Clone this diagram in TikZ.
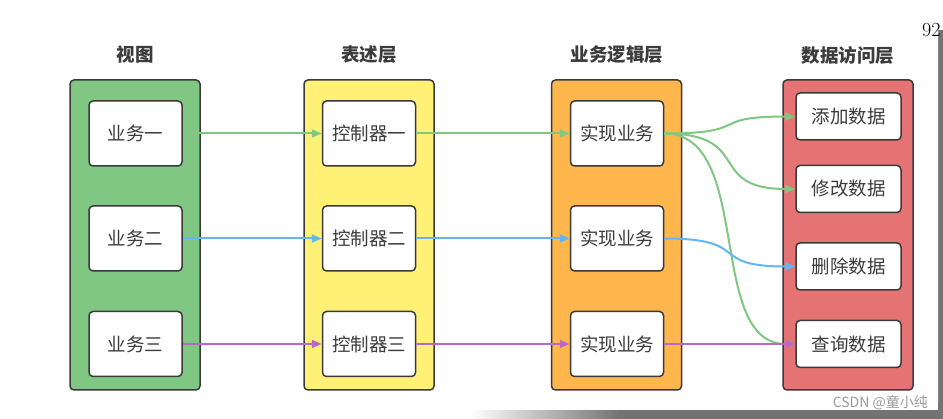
\documentclass[tikz,border=0pt]{standalone}
\usepackage{fontspec}
\newfontfamily\cjk{Noto Sans CJK SC}
\usetikzlibrary{arrows.meta}

\definecolor{viewgreen}{HTML}{81C784}
\definecolor{presyellow}{HTML}{FFF176}
\definecolor{logicorange}{HTML}{FFB74D}
\definecolor{datared}{HTML}{E57373}
\definecolor{flowgreen}{HTML}{81C784}
\definecolor{flowblue}{HTML}{64B5F6}
\definecolor{flowpurple}{HTML}{BA68C8}
\definecolor{framegray}{HTML}{3A3A3A}
\definecolor{textgray}{HTML}{3C3C3C}

\begin{document}
\begin{tikzpicture}[x=1pt, y=-1pt,
	layer/.style={draw=framegray, line width=1.5pt, rounded corners=4pt,
		minimum width=130pt, minimum height=310pt, inner sep=0pt},
	item/.style={draw=framegray, fill=white, line width=1.5pt, rounded corners=4pt,
		minimum width=93pt, minimum height=65pt, inner sep=0pt, text=textgray,
		font=\cjk\fontsize{18.5}{20}\selectfont},
	dataitem/.style={item, minimum width=105pt, minimum height=47pt},
	title/.style={text=textgray, font=\cjk\bfseries\fontsize{18.5}{20}\selectfont},
	flow/.style={line width=2pt, -{Triangle[length=10pt, width=8pt]}},
	]
	\useasboundingbox (0,0) rectangle (943,419);
	
	% Screen edge around the page
	\fill[black!55] (938,30) rectangle (943,419);
	\shade[left color=white, right color=black!55] (470,410) rectangle (620,419);
	\fill[black!55] (620,410) rectangle (943,419);
	\fill[white, rounded corners=8pt] (-10,-10) rectangle (938,410);
	\node[anchor=base west, inner sep=0pt, font=\fontsize{20}{22}\selectfont] (page) at (922,37) {92};
	
	% Titles of the four layers
	\node[title] (viewT) at (135,55) {视图};
	\node[title] (presT) at (369,55) {表述层};
	\node[title] (logicT) at (617,55) {业务逻辑层};
	\node[title] (dataT) at (848,55) {数据访问层};
	
	% The layers themselves
	\node[layer, fill=viewgreen] (view) at (135,235) {};
	\node[layer, fill=presyellow] (pres) at (369,235) {};
	\node[layer, fill=logicorange] (logic) at (616.5,235) {};
	\node[layer, fill=datared] (data) at (848,235) {};
	
	% One row per business case
	\foreach \i/\y/\n in {1/133.5/一, 2/238.5/二, 3/344/三} {
		\node[item] (biz\i) at (135.5,\y) {业务\n};
		\node[item] (ctrl\i) at (369,\y) {控制器\n};
		\node[item] (impl\i) at (617,\y) {实现业务};
	}
	
	% Data access operations
	\node[dataitem] (add) at (848.5,116.5) {添加数据};
	\node[dataitem] (mod) at (848.5,189) {修改数据};
	\node[dataitem] (del) at (848.5,266.5) {删除数据};
	\node[dataitem] (query) at (848.5,344) {查询数据};
	
	% Calls from view to controller to service
	\foreach \i/\c in {1/flowgreen, 2/flowblue, 3/flowpurple} {
		\draw[flow, \c] (biz\i) -- (ctrl\i);
		\draw[flow, \c] (ctrl\i) -- (impl\i);
	}
	
	% Calls from service to data access
	\begin{scope}[flow, flowgreen]
		\draw (impl1.east) .. controls +(90,0) and +(-90,0) .. (add.west);
		\draw (impl1.east) .. controls +(90,0) and +(-90,0) .. (mod.west);
		\draw (impl1.east) .. controls +(90,0) and +(-90,0) .. (query.west);
	\end{scope}
	\draw[flow, flowblue] (impl2.east) .. controls +(90,0) and +(-90,0) .. (del.west);
	\draw[flow, flowpurple] (impl3) -- (query);
	
	% Watermark
	\node[anchor=east, inner sep=0pt, text=black!40, font=\cjk\fontsize{14}{16}\selectfont] (mark) at (928,403) {CSDN @童小纯};
\end{tikzpicture}
\end{document}
